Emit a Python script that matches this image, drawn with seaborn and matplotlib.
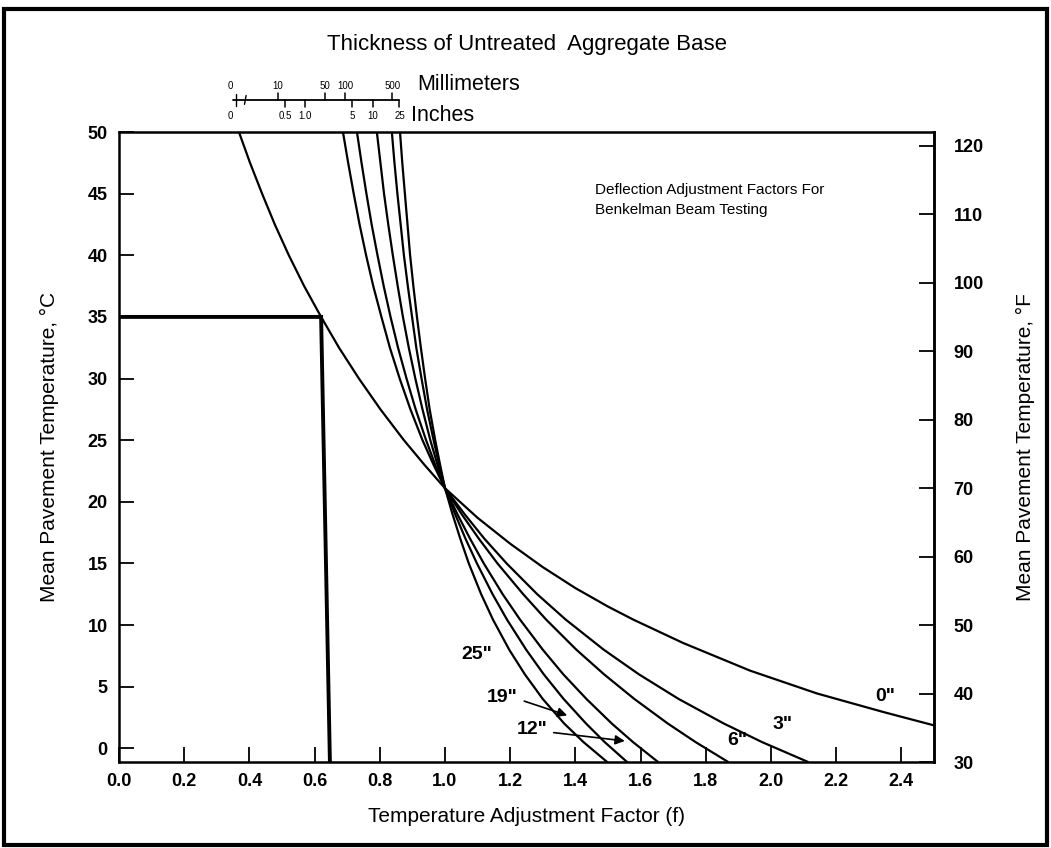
import numpy as np
import pandas as pd
import matplotlib.pyplot as plt
import seaborn as sns

# curves: adjustment factor f vs mean pavement temperature (degC)
thickness = ['0"', '3"', '6"', '12"', '19"', '25"']
temp_c = [50, 47.5, 45, 42.5, 40, 37.5, 35, 32.5, 30, 27.5, 25, 23, 21.1,
          19, 17, 15, 12.5, 10.45, 8, 6, 4, 2, 0.5, -1.1]
f_3in = [0.687, 0.703, 0.720, 0.738, 0.758, 0.780, 0.805, 0.831, 0.861, 0.894, 0.931, 0.965, 1.0,
         1.060, 1.121, 1.189, 1.283, 1.37, 1.487, 1.595, 1.717, 1.856, 1.973, 2.113]
f_6in = [0.730, 0.744, 0.759, 0.775, 0.793, 0.812, 0.833, 0.856, 0.882, 0.910, 0.942, 0.970, 1.0,
         1.051, 1.104, 1.161, 1.240, 1.31, 1.403, 1.488, 1.581, 1.684, 1.769, 1.868]
f_12in = [0.791, 0.802, 0.813, 0.826, 0.840, 0.855, 0.871, 0.889, 0.909, 0.931, 0.955, 0.977, 1.0,
          1.038, 1.077, 1.119, 1.177, 1.23, 1.300, 1.363, 1.434, 1.512, 1.577, 1.653]
f_19in = [0.837, 0.845, 0.854, 0.864, 0.874, 0.886, 0.899, 0.912, 0.928, 0.945, 0.965, 0.982, 1.0,
          1.031, 1.063, 1.098, 1.146, 1.19, 1.249, 1.303, 1.364, 1.433, 1.490, 1.558]
f_25in = [0.862, 0.869, 0.877, 0.885, 0.893, 0.903, 0.914, 0.926, 0.939, 0.953, 0.970, 0.985, 1.0,
          1.023, 1.047, 1.073, 1.111, 1.147, 1.197, 1.245, 1.300, 1.366, 1.425, 1.497]
# the 0" curve runs off the right edge, so it has its own temperatures
f_0in = [0.368, 0.402, 0.439, 0.478, 0.521, 0.568, 0.62, 0.675, 0.736, 0.802, 0.874, 0.937, 1.0,
         1.1, 1.2, 1.3, 1.4, 1.5, 1.577, 1.73, 1.936, 2.141, 2.344, 2.5]
temp_0in = [50, 47.5, 45, 42.5, 40, 37.5, 35, 32.5, 30, 27.5, 25, 23, 21.1,
            18.7, 16.6, 14.7, 13.0, 11.5, 10.45, 8.55, 6.3, 4.45, 2.95, 1.86]

# example: 35 degC -> f = 0.62
guide_f = [0.0, 0.62, 0.647]
guide_t = [35, 35, -1.1]

# thickness scale above the plot
mm_ticks = [10, 50, 100, 500]
mm_labels = ['10', '50', '100', '500']
in_ticks = [0.5, 1.0, 5, 10, 25]
in_labels = ['0.5', '1.0', '5', '10', '25']

# labels on the curves (text, f, temp)
curve_labels = [('25"', 1.098, 7.6), ('19"', 1.176, 4.1), ('12"', 1.267, 1.5),
                ('6"', 1.895, 0.6), ('3"', 2.035, 1.9), ('0"', 2.35, 4.2)]

rows = []
for name, fs in zip(thickness[1:], [f_3in, f_6in, f_12in, f_19in, f_25in]):
    for f, t in zip(fs, temp_c):
        rows.append({'thickness': name, 'f': f, 'temp': t})
for f, t in zip(f_0in, temp_0in):
    rows.append({'thickness': '0"', 'f': f, 'temp': t})
df = pd.DataFrame(rows)

sns.set_style('ticks')
plt.rcParams['font.family'] = ['Liberation Sans', 'DejaVu Sans']
plt.rcParams['text.color'] = 'black'
plt.rcParams['axes.labelcolor'] = 'black'

fig = plt.figure(figsize=(10.51, 8.48), dpi=100)
ax = fig.add_axes([0.1132, 0.1014, 0.7755, 0.7429])

sns.lineplot(data=df, x='f', y='temp', hue='thickness', estimator=None,
             palette=['black'] * len(thickness), linewidth=1.6, legend=False, ax=ax)
for ln in ax.get_lines():
    ln.set_solid_joinstyle('round')
ax.plot(guide_f, guide_t, color='black', lw=2.8, solid_joinstyle='miter')

ax.set_xlim(0, 2.5)
ax.set_ylim(-10 / 9, 50)
ax.set_xticks(np.arange(0, 2.41, 0.2))
ax.set_xticklabels([f'{v:.1f}' for v in np.arange(0, 2.41, 0.2)])
ax.set_yticks(range(0, 51, 5))
for s in ax.spines.values():
    s.set_visible(True)
    s.set_linewidth(1.8)
    s.set_color('black')
ax.tick_params(direction='in', length=11, width=1.3, labelsize=13, pad=8, colors='black')
for lab in ax.get_xticklabels() + ax.get_yticklabels():
    lab.set_fontweight('bold')

ax.set_xlabel('Temperature Adjustment Factor (f)', fontsize=15, color='black')
ax.set_ylabel('Mean Pavement Temperature, °C', fontsize=15, color='black')
ax.xaxis.set_label_coords(0.5, -0.072)
ax.yaxis.set_label_coords(-0.074, 0.5)

sec = ax.secondary_yaxis('right', functions=(lambda c: c * 1.8 + 32, lambda f: (f - 32) / 1.8))
sec.set_yticks(range(30, 121, 10))
sec.tick_params(direction='in', length=11, width=1.3, labelsize=13, pad=14, colors='black')
for lab in sec.get_yticklabels():
    lab.set_fontweight('bold')
sec.spines['right'].set_linewidth(1.8)
sec.spines['right'].set_color('black')
fig.text(0.976, 0.473, 'Mean Pavement Temperature, °F', fontsize=15,
         rotation=90, ha='center', va='center', color='black')

# curve labels and arrows
for txt, x, y in curve_labels:
    ax.text(x, y, txt, fontsize=14, fontweight='bold', ha='center', va='center', color='black')
ax.annotate('', xy=(1.383, 2.6), xytext=(1.235, 3.9),
            arrowprops=dict(arrowstyle='-|>', color='black', lw=1.2, mutation_scale=14))
ax.annotate('', xy=(1.56, 0.57), xytext=(1.325, 1.3),
            arrowprops=dict(arrowstyle='-|>', color='black', lw=1.2, mutation_scale=14))

ax.text(1.46, 44.5, 'Deflection Adjustment Factors For\nBenkelman Beam Testing',
        fontsize=11, ha='left', va='center', linespacing=1.55, color='black')

# thickness scale (log spacing in inches, broken at zero)
tr = ax.get_xaxis_transform()
def scale_pos(inches):
    return 0.571 + 0.207 * np.log10(inches)

y0 = 1.051
ax.plot([0.35, scale_pos(25)], [y0, y0], color='black', lw=1.3, transform=tr, clip_on=False)
ax.plot([0.36, 0.36], [y0 - 0.009, y0 + 0.009], color='black', lw=1.0, transform=tr, clip_on=False)
ax.plot([0.385, 0.39], [y0 - 0.007, y0 + 0.007], color='black', lw=1.0, transform=tr, clip_on=False)
for m, lab in zip(mm_ticks, mm_labels):
    x = scale_pos(m / 25.4)
    ax.plot([x, x], [y0, y0 + 0.011], color='black', lw=1.1, transform=tr, clip_on=False)
    ax.text(x, y0 + 0.022, lab, fontsize=7, ha='center', va='center', transform=tr)
for v, lab in zip(in_ticks, in_labels):
    x = scale_pos(v)
    ax.plot([x, x], [y0, y0 - 0.011], color='black', lw=1.1, transform=tr, clip_on=False)
    ax.text(x, y0 - 0.025, lab, fontsize=7, ha='center', va='center', transform=tr)
ax.text(0.343, y0 + 0.022, '0', fontsize=7, ha='center', va='center', transform=tr)
ax.text(0.343, y0 - 0.025, '0', fontsize=7, ha='center', va='center', transform=tr)
ax.text(0.915, y0 + 0.025, 'Millimeters', fontsize=15.5, ha='left', va='center', transform=tr)
ax.text(0.897, y0 - 0.024, 'Inches', fontsize=15.5, ha='left', va='center', transform=tr)

fig.text(0.5016, 0.947, 'Thickness of Untreated  Aggregate Base', fontsize=16,
         ha='center', va='center')

# outer frame of the figure
fig.add_artist(plt.Rectangle((0.004, 0.004), 0.992, 0.985, fill=False, lw=3,
                             edgecolor='black', transform=fig.transFigure))

fig.savefig('out.png', dpi=100)
